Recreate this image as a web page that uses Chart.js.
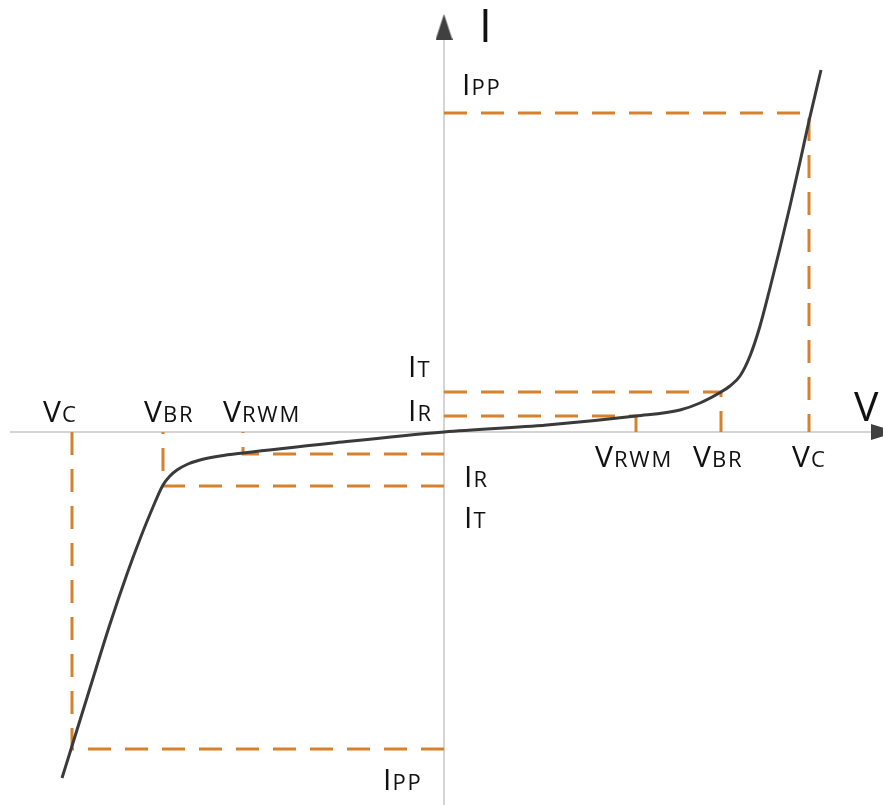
<!DOCTYPE html>
<html>
<head>
<meta charset="utf-8">
<script src="https://cdn.jsdelivr.net/npm/chart.js@4/dist/chart.umd.min.js"></script>
<style>
  html, body { margin: 0; padding: 0; background: #fff; }
  #wrap { width: 883px; height: 805px; }
</style>
</head>
<body>
<div id="wrap"><canvas id="iv" width="883" height="805"></canvas></div>
<script>
// TVS diode I-V characteristic, values in arbitrary units (origin = axes crossing)
const curveV = [-382, -372, -354, -334, -317, -304, -291, -281, -274, -267, -256, -244, -224, -201, -111, 0, 103, 192, 236, 256, 277, 286, 296, 306, 316, 326, 336, 346, 356, 365, 377];
const curveI = [-346, -314, -256, -192, -142, -107, -75, -53, -44, -38, -32, -28, -24, -21, -11, 0, 7, 16, 22, 29, 40, 46, 56, 76, 106, 144, 184, 226, 270, 311, 362];

// characteristic levels, positive side: RWM, BR, C  /  IR, IT, IPP
const posV = [192, 277, 365];
const posI = [16, 40, 319];
// negative side
const negV = [-201, -281, -372];
const negI = [-22, -54, -317];

// axis extents
const axisV = [-434, 431];
const axisI = [-373, 398];

// labels: main letter, subscript, anchor (v, i)
const labelMain = ['I', 'I', 'I', 'I', 'I', 'I', 'V', 'V', 'V', 'V', 'V', 'V'];
const labelSub  = ['PP', 'T', 'R', 'R', 'T', 'PP', 'C', 'BR', 'RWM', 'RWM', 'BR', 'C'];
const labelV    = [18, -36, -36, 20, 20, -61, -401, -300, -221, 151, 249, 348];
const labelI    = [337, 55, 11, -55, -96, -358, 10, 10, 10, -35, -35, -35];

const $ = id => document.getElementById(id);
const ORANGE = '#d7812d';
const DASH = [23, 14];

function arrowImg(w, h, dir) {
  const c = document.createElement('canvas');
  c.width = w; c.height = h;
  const g = c.getContext('2d');
  g.fillStyle = '#404040';
  g.beginPath();
  if (dir === 'up') { g.moveTo(w / 2, 0); g.lineTo(w, h); g.lineTo(0, h); }
  else { g.moveTo(w, h / 2); g.lineTo(0, h); g.lineTo(0, 0); }
  g.closePath(); g.fill();
  return c;
}

const dashSet = (pts) => ({
  data: pts, showLine: true, borderColor: ORANGE, borderWidth: 3,
  borderDash: DASH, pointRadius: 0, tension: 0, order: 1
});

const datasets = [
  {
    data: curveV.map((v, k) => ({ x: v, y: curveI[k] })),
    showLine: true, borderColor: '#3a3a3a', borderWidth: 3,
    pointRadius: 0, cubicInterpolationMode: 'monotone', order: 0
  }
];
for (let k = 0; k < 3; k++) {
  datasets.push(dashSet([{ x: 0, y: posI[k] }, { x: posV[k], y: posI[k] }, { x: posV[k], y: 0 }]));
  datasets.push(dashSet([{ x: 0, y: negI[k] }, { x: negV[k], y: negI[k] }, { x: negV[k], y: 0 }]));
}
datasets.push({ data: [{ x: axisV[0], y: 0 }, { x: axisV[1], y: 0 }], showLine: true, borderColor: '#c6c6c6', borderWidth: 1.5, pointRadius: 0, order: 2 });
datasets.push({ data: [{ x: 0, y: axisI[0] }, { x: 0, y: axisI[1] }], showLine: true, borderColor: '#c6c6c6', borderWidth: 1.5, pointRadius: 0, order: 2 });
// arrow heads
datasets.push({ data: [{ x: 0, y: axisI[1] + 7 }], pointStyle: arrowImg(17, 26, 'up'), pointRadius: 10, order: 0 });
datasets.push({ data: [{ x: axisV[1] + 9, y: 0 }], pointStyle: arrowImg(26, 16, 'right'), pointRadius: 10, order: 0 });

const labelPlugin = {
  id: 'ivLabels',
  afterDatasetsDraw(chart) {
    const { ctx, scales: { x, y } } = chart;
    ctx.save();
    ctx.fillStyle = '#111';
    ctx.textBaseline = 'alphabetic';
    ctx.textAlign = 'left';
    const draw = (main, sub, px, py, big, small) => {
      ctx.letterSpacing = '0px';
      ctx.font = `${big}px "Open Sans"`;
      ctx.fillText(main, px, py);
      const w = ctx.measureText(main).width;
      if (sub) {
        ctx.font = `${small}px "Open Sans"`;
        ctx.letterSpacing = '1.8px';
        ctx.fillText(sub, px + w + 1, py);
      }
    };
    labelMain.forEach((m, k) => {
      draw(m, labelSub[k], x.getPixelForValue(labelV[k]), y.getPixelForValue(labelI[k]), 30, 22);
    });
    // axis names
    draw('I', '', x.getPixelForValue(35), y.getPixelForValue(390), 46);
    draw('V', '', x.getPixelForValue(410), y.getPixelForValue(11), 41);
    ctx.restore();
  }
};

new Chart($('iv').getContext('2d'), {
  type: 'scatter',
  data: { datasets },
  options: {
    responsive: false, animation: false,
    layout: { padding: 0, autoPadding: false },
    plugins: { legend: { display: false }, tooltip: { enabled: false } },
    scales: {
      x: { type: 'linear', min: -444, max: 439, display: false },
      y: { type: 'linear', min: -373, max: 432, display: false }
    }
  },
  plugins: [labelPlugin]
});
</script>
</body>
</html>
